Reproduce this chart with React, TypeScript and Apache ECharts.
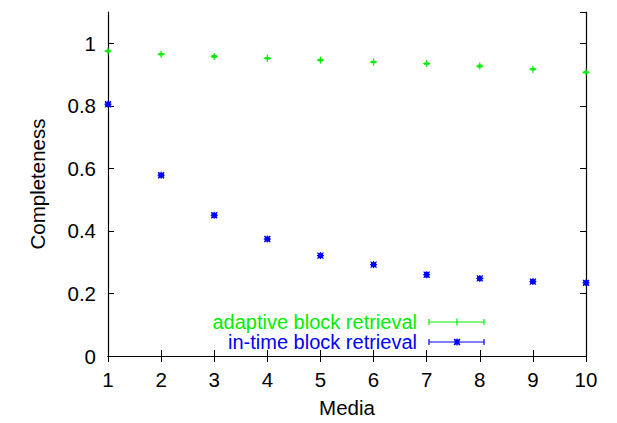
import React, { useEffect, useRef } from "react";
import * as echarts from "echarts";

const media = [1, 2, 3, 4, 5, 6, 7, 8, 9, 10];
const adaptive = [0.975, 0.965, 0.958, 0.952, 0.946, 0.94, 0.935, 0.927, 0.917, 0.907];
const adaptiveErr = [0.002, 0.002, 0.003, 0.002, 0.002, 0.002, 0.002, 0.003, 0.002, 0.002];
const inTime = [0.805, 0.578, 0.45, 0.374, 0.321, 0.292, 0.26, 0.248, 0.238, 0.234];
const inTimeErr = [0.004, 0.003, 0.003, 0.003, 0.003, 0.003, 0.007, 0.004, 0.003, 0.005];
const yTicks = [0, 0.2, 0.4, 0.6, 0.8, 1];

const GREEN = "#00ee00";
const BLUE = "#0000ff";
const FONT = "Liberation Sans";
const FS = 20.5;
const LEGEND_FS = 20;

function markerSeries(name: string, ys: number[], errs: number[], color: string, kind: "plus" | "star") {
  return {
    type: "custom",
    name,
    data: media.map((x, i) => [x, ys[i], errs[i]]),
    renderItem: (params: any, api: any) => {
      const x = api.value(0);
      const y = api.value(1);
      const e = api.value(2);
      const c = api.coord([x, y]);
      const lo = api.coord([x, y - e]);
      const hi = api.coord([x, y + e]);
      const s = 3.5;
      const st = { stroke: color, lineWidth: 1.2 };
      const children: any[] = [
        { type: "line", shape: { x1: c[0], y1: lo[1], x2: c[0], y2: hi[1] }, style: st },
        { type: "line", shape: { x1: c[0] - 2.5, y1: lo[1], x2: c[0] + 2.5, y2: lo[1] }, style: st },
        { type: "line", shape: { x1: c[0] - 2.5, y1: hi[1], x2: c[0] + 2.5, y2: hi[1] }, style: st },
        { type: "line", shape: { x1: c[0] - s, y1: c[1], x2: c[0] + s, y2: c[1] }, style: st },
        { type: "line", shape: { x1: c[0], y1: c[1] - s, x2: c[0], y2: c[1] + s }, style: st },
      ];
      if (kind === "star") {
        children.push(
          { type: "line", shape: { x1: c[0] - 3, y1: c[1] - 3, x2: c[0] + 3, y2: c[1] + 3 }, style: st },
          { type: "line", shape: { x1: c[0] - 3, y1: c[1] + 3, x2: c[0] + 3, y2: c[1] - 3 }, style: st },
          { type: "rect", shape: { x: c[0] - 2.5, y: c[1] - 2.5, width: 5, height: 5 }, style: { fill: color } }
        );
      }
      return { type: "group", children };
    },
  };
}

function legendEntry(label: string, y: number, color: string, kind: "plus" | "star") {
  const st = { stroke: color, lineWidth: 1.2 };
  const mx = 457;
  const children: any[] = [
    { type: "text", x: 417, y, style: { text: label, fill: color, font: `${LEGEND_FS}px ${FONT}`, align: "right", verticalAlign: "middle" } },
    { type: "line", shape: { x1: 429, y1: y, x2: 484, y2: y }, style: st },
    { type: "line", shape: { x1: 429, y1: y - 3, x2: 429, y2: y + 3 }, style: st },
    { type: "line", shape: { x1: 484, y1: y - 3, x2: 484, y2: y + 3 }, style: st },
    { type: "line", shape: { x1: mx, y1: y - 3.5, x2: mx, y2: y + 3.5 }, style: st },
  ];
  if (kind === "star") {
    children.push(
      { type: "line", shape: { x1: mx - 3, y1: y - 3, x2: mx + 3, y2: y + 3 }, style: st },
      { type: "line", shape: { x1: mx - 3, y1: y + 3, x2: mx + 3, y2: y - 3 }, style: st },
      { type: "rect", shape: { x: mx - 2.5, y: y - 2.5, width: 5, height: 5 }, style: { fill: color } }
    );
  }
  return { type: "group", children };
}

export default function App() {
  const ref = useRef<HTMLDivElement>(null);
  useEffect(() => {
    if (!ref.current) return;
    const chart = echarts.init(ref.current, null, { renderer: "svg" });
    const axisLine = { show: true, lineStyle: { color: "#000", width: 1.2 } };
    const tick = { show: true, inside: true, length: 6, lineStyle: { color: "#000", width: 1 } };
    const labelStyle = { color: "#000", fontFamily: FONT, fontSize: FS };
    chart.setOption({
      animation: false,
      backgroundColor: "#fff",
      grid: { left: 108, top: 12, width: 478, height: 346, containLabel: false },
      xAxis: [
        {
          type: "value", min: 1, max: 10, interval: 1,
          axisLine, axisTick: tick, splitLine: { show: false },
          axisLabel: { ...labelStyle, margin: 13 },
          name: "Media", nameLocation: "middle", nameGap: 41,
          nameTextStyle: { color: "#000", fontFamily: FONT, fontSize: FS },
        },
        {
          type: "value", position: "top", min: 1, max: 10, interval: 1,
          axisLine, axisTick: tick, splitLine: { show: false }, axisLabel: { show: false },
        },
      ],
      yAxis: [
        {
          type: "value", min: 0, max: 1.1, interval: 0.2,
          axisLine, axisTick: tick, splitLine: { show: false },
          axisLabel: {
            ...labelStyle, margin: 12, showMaxLabel: false,
            formatter: (v: number) => {
              const t = yTicks.find((k) => Math.abs(k - v) < 1e-6);
              return t === undefined ? "" : String(t);
            },
          },
          name: "Completeness", nameLocation: "middle", nameGap: 60, nameRotate: 90,
          nameTextStyle: { color: "#000", fontFamily: FONT, fontSize: FS },
        },
        {
          type: "value", position: "right", min: 0, max: 1.1, interval: 0.2,
          axisLine, axisTick: tick, splitLine: { show: false }, axisLabel: { show: false },
        },
      ],
      graphic: [legendEntry("adaptive block retrieval", 322, GREEN, "plus"), legendEntry("in-time block retrieval", 342, BLUE, "star")],
      series: [
        markerSeries("adaptive block retrieval", adaptive, adaptiveErr, GREEN, "plus"),
        markerSeries("in-time block retrieval", inTime, inTimeErr, BLUE, "star"),
      ],
    });
    return () => chart.dispose();
  }, []);
  return <div ref={ref} style={{ position: "fixed", left: 0, top: 0, width: 617, height: 423 }} />;
}
